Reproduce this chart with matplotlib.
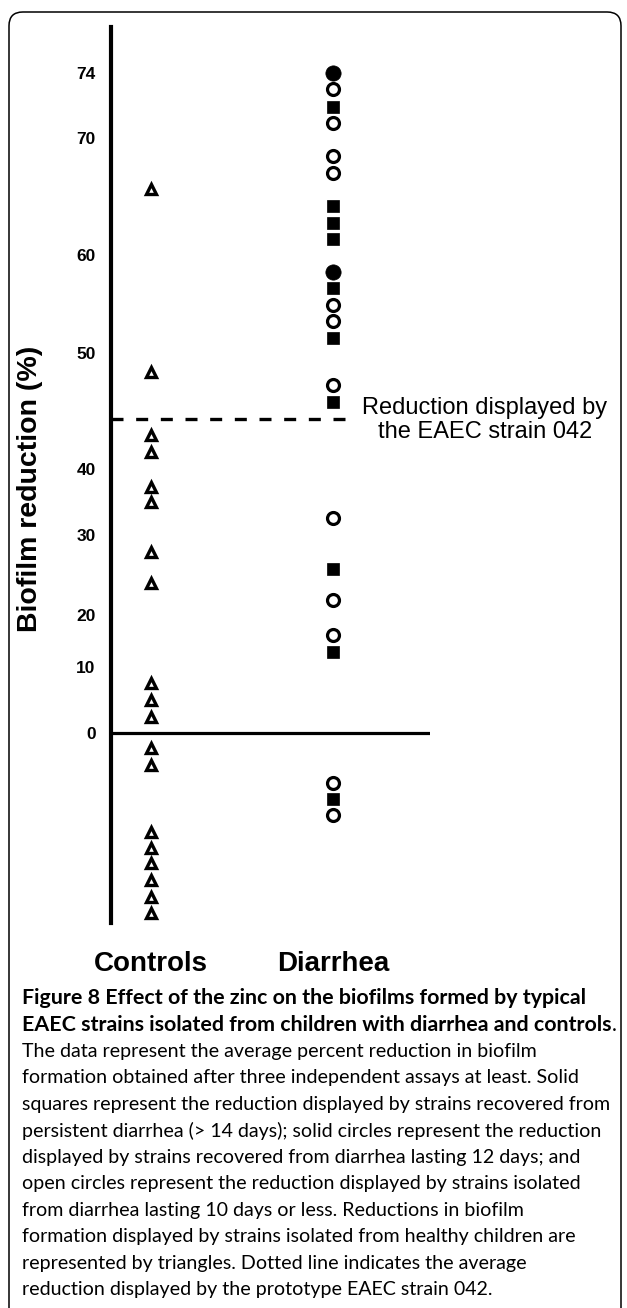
import numpy as np
import matplotlib
matplotlib.use("Agg")
import matplotlib.pyplot as plt
from matplotlib.patches import FancyBboxPatch
from matplotlib.scale import FuncScale

# ---- data ----
groups = ["Controls", "Diarrhea"]

controls = [65.6, 48.4, 42.9, 41.5, 37.3, 35.0, 27.9, 24.0, 7.6, 5.0, 2.4,
            -2.3, -4.8, -15.0, -17.4, -19.7, -22.3, -24.8, -27.3]

# diarrhea strains, split by symbol
persistent = [71.9, 64.2, 62.7, 61.4, 56.6, 51.5, 45.8, 25.8, 12.9, -10.0]   # solid squares
lasting12 = [74.0, 58.3]                                                       # solid circles
lasting10 = [73.0, 70.9, 68.5, 67.0, 54.9, 53.3, 47.2, 32.6, 21.9, 16.2,
             -7.6, -12.4]                                                      # open circles

strain042 = 44.3
yticks = [0, 10, 20, 30, 40, 50, 60, 70, 74]

caption_title = ["Figure 8 Effect of the zinc on the biofilms formed by typical",
                 "EAEC strains isolated from children with diarrhea and controls"]
caption_body = [
    "The data represent the average percent reduction in biofilm",
    "formation obtained after three independent assays at least. Solid",
    "squares represent the reduction displayed by strains recovered from",
    "persistent diarrhea (> 14 days); solid circles represent the reduction",
    "displayed by strains recovered from diarrhea lasting 12 days; and",
    "open circles represent the reduction displayed by strains isolated",
    "from diarrhea lasting 10 days or less. Reductions in biofilm",
    "formation displayed by strains isolated from healthy children are",
    "represented by triangles. Dotted line indicates the average",
    "reduction displayed by the prototype EAEC strain 042.",
]

# ---- the hand drawn axis is not linear: piecewise scale through the ticks ----
knots = np.array(yticks, float)
knot_pos = np.array([0, 66, 118, 198, 264, 380, 478, 595, 660], float)
lo_slope, hi_slope = 6.6, 16.25


def forward(v):
    v = np.asarray(v, float)
    out = np.interp(v, knots, knot_pos)
    out = np.where(v < knots[0], knot_pos[0] + (v - knots[0]) * lo_slope, out)
    out = np.where(v > knots[-1], knot_pos[-1] + (v - knots[-1]) * hi_slope, out)
    return out


def inverse(p):
    p = np.asarray(p, float)
    out = np.interp(p, knot_pos, knots)
    out = np.where(p < knot_pos[0], knots[0] + (p - knot_pos[0]) / lo_slope, out)
    out = np.where(p > knot_pos[-1], knots[-1] + (p - knot_pos[-1]) / hi_slope, out)
    return out


W, H = 627, 1308
fig = plt.figure(figsize=(W / 100, H / 100), dpi=100)

# frame round the whole figure
frame = FancyBboxPatch((9 / W, -0.02), (621 - 9) / W, (H - 12) / H + 0.02,
                       boxstyle="round,pad=0,rounding_size=0.022",
                       transform=fig.transFigure, fc="none", ec="black", lw=1.1,
                       mutation_aspect=W / H)
fig.patches.append(frame)

ax_l, ax_r, ax_t, ax_b = 111, 430, 27, 923
ax = fig.add_axes([ax_l / W, 1 - ax_b / H, (ax_r - ax_l) / W, (ax_b - ax_t) / H])
ax.set_yscale(FuncScale(ax, (forward, inverse)))
ax.set_ylim(inverse(733 - ax_b), inverse(733 - ax_t))

xpx = [151, 333]
ax.set_xlim((ax_l - xpx[0]) / (xpx[1] - xpx[0]), (ax_r - xpx[0]) / (xpx[1] - xpx[0]))
xc, xd = 0, 1

for s in ["top", "right", "bottom"]:
    ax.spines[s].set_visible(False)
ax.spines["left"].set_linewidth(3.0)

ax.axhline(0, color="black", lw=2.3, zorder=1)
dash_end = (357 - xpx[0]) / (xpx[1] - xpx[0])
ax.plot([ax.get_xlim()[0], dash_end], [strain042, strain042], color="black",
        lw=2.4, linestyle=(0, (3.6, 3.8)), solid_capstyle="butt",
        dash_capstyle="butt", clip_on=False, zorder=1)

ax.plot([xc] * len(controls), controls, linestyle="none", marker="^", ms=7.5,
        mfc="white", mec="black", mew=2.4, clip_on=False, zorder=3)
ax.plot([xd] * len(lasting10), lasting10, linestyle="none", marker="o", ms=8.6,
        mfc="white", mec="black", mew=2.3, clip_on=False, zorder=3)
ax.plot([xd] * len(persistent), persistent, linestyle="none", marker="s", ms=8.4,
        mfc="black", mec="black", mew=0.5, clip_on=False, zorder=3)
ax.plot([xd] * len(lasting12), lasting12, linestyle="none", marker="o", ms=11,
        mfc="black", mec="black", mew=0.5, clip_on=False, zorder=3)

ax.set_yticks(yticks)
ax.set_yticklabels([str(t) for t in yticks], fontsize=12.5, fontweight="bold",
                   family="Liberation Sans")
ax.tick_params(axis="y", length=0, pad=11)
ax.set_xticks([xc, xd])
ax.set_xticklabels(groups, fontsize=20, fontweight="bold", family="Liberation Sans")
ax.tick_params(axis="x", length=0, pad=20)
ax.set_ylabel("Biofilm reduction (%)", fontsize=20.5, fontweight="bold",
              family="Liberation Sans")
ax.yaxis.set_label_coords((43 - ax_l) / (ax_r - ax_l), 1 - (489 - ax_t) / (ax_b - ax_t))

fig.text(485 / W, 1 - 420 / H, "Reduction displayed by\nthe EAEC strain 042",
         ha="center", va="center", fontsize=17, family="Liberation Sans",
         linespacing=1.15)

# ---- caption, sized so the lines fill the frame width ----
renderer = fig.canvas.get_renderer()
probe = fig.text(0, 0, caption_body[2], fontsize=12, family="Lato")
body_size = 12 * 586 / probe.get_window_extent(renderer).width
probe.remove()
probe = fig.text(0, 0, caption_title[1] + ".", fontsize=12, family="Lato",
                 fontweight="bold")
title_size = 12 * 592 / probe.get_window_extent(renderer).width
probe.remove()

x0 = 22 / W
y_line = 998
for i, line in enumerate(caption_title):
    t = fig.text(x0, 1 - y_line / H, line, fontsize=title_size, family="Lato",
                 fontweight="bold", va="center")
    if i == 1:
        bb = t.get_window_extent(renderer)
        fig.text(bb.x1 / W, 1 - y_line / H, ".", fontsize=title_size, family="Lato",
                 va="center")
    y_line += 26.6
for line in caption_body:
    fig.text(x0, 1 - y_line / H, line, fontsize=body_size, family="Lato", va="center")
    y_line += 26.5

fig.savefig("out.png", dpi=100)
